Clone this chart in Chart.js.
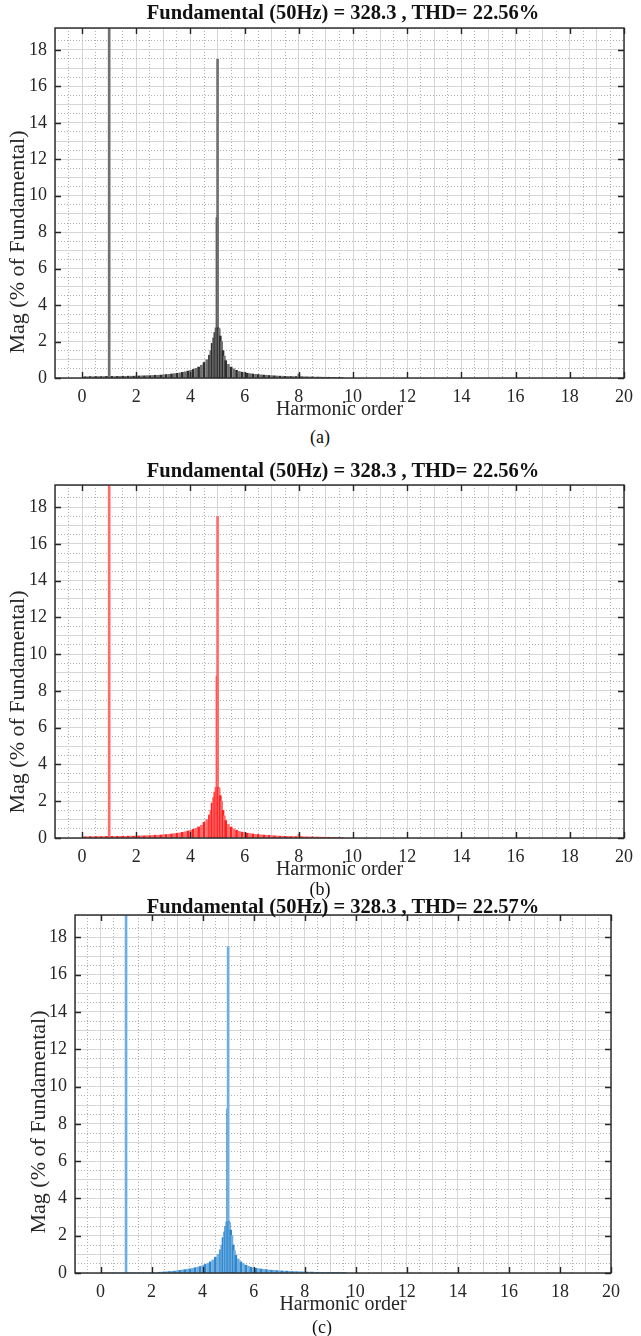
<!DOCTYPE html>
<html>
<head>
<meta charset="utf-8">
<script src="https://cdn.jsdelivr.net/npm/chart.js@4.4.1/dist/chart.umd.min.js"></script>
<style>
  body { margin: 0; background: #fff; }
  #page { position: relative; width: 641px; height: 1336px; overflow: hidden; font-family: 'Liberation Serif', 'Times New Roman', serif; color: #262626; }
  canvas { position: absolute; left: 0; }
  .title { position: absolute; left: 93px; width: 500px; text-align: center; font-weight: bold; font-size: 20.5px; line-height: 24px; z-index: 2; color: #111; }
  .caption { position: absolute; width: 60px; text-align: center; font-size: 18px; line-height: 22px; color: #111; }
  .ylab { position: absolute; width: 320px; text-align: center; font-size: 22px; line-height: 24px; transform: rotate(-90deg); transform-origin: 50% 50%; white-space: nowrap; color: #262626; }
</style>
</head>
<body>
<div id="page">
  <div class="title" style="top:0px">Fundamental (50Hz) = 328.3 , THD= 22.56%</div>
  <canvas id="chartA" width="641" height="425" style="top:0px;width:641px;height:425px"></canvas>
  <div class="ylab" style="left:-143px;top:230px">Mag (% of Fundamental)</div>
  <div class="caption" style="left:290px;top:426px">(a)</div>

  <div class="title" style="top:458px">Fundamental (50Hz) = 328.3 , THD= 22.56%</div>
  <canvas id="chartB" width="641" height="428" style="top:457px;width:641px;height:428px"></canvas>
  <div class="ylab" style="left:-143px;top:690px">Mag (% of Fundamental)</div>
  <div class="caption" style="left:290px;top:878px">(b)</div>

  <div class="title" style="top:894px">Fundamental (50Hz) = 328.3 , THD= 22.57%</div>
  <canvas id="chartC" width="641" height="433" style="top:887px;width:641px;height:433px"></canvas>
  <div class="ylab" style="left:-122px;top:1110px">Mag (% of Fundamental)</div>
  <div class="caption" style="left:292px;top:1316px">(c)</div>
</div>

<script>
// harmonic order of each spectral bar
const harmonicOrder = [
  0.1, 0.2, 0.3, 0.4, 0.5, 0.6, 0.7, 0.8, 0.9, 1.0,
  1.1, 1.2, 1.3, 1.4, 1.5, 1.6, 1.7, 1.8, 1.9, 2.0,
  2.1, 2.2, 2.3, 2.4, 2.5, 2.6, 2.7, 2.8, 2.9, 3.0,
  3.1, 3.2, 3.3, 3.4, 3.5, 3.6, 3.7, 3.8, 3.9, 4.0,
  4.1, 4.2, 4.3, 4.4, 4.5, 4.6, 4.7, 4.75, 4.8, 4.85,
  4.9, 4.94, 4.98, 5.0, 5.02, 5.06, 5.1, 5.15, 5.2, 5.25,
  5.3, 5.4, 5.5, 5.6, 5.7, 5.8, 5.9, 6.0,
  6.1, 6.2, 6.3, 6.4, 6.5, 6.6, 6.7, 6.8, 6.9, 7.0,
  7.1, 7.2, 7.3, 7.4, 7.5, 7.6, 7.7, 7.8, 7.9, 8.0,
  8.1, 8.2, 8.3, 8.4, 8.5, 8.6, 8.7, 8.8, 8.9, 9.0,
  9.1, 9.2, 9.3, 9.4, 9.5, 9.6
];

// magnitude (% of fundamental), panel (a)
const magA = [
  0.07, 0.07, 0.08, 0.07, 0.08, 0.08, 0.08, 0.08, 0.09, 100,
  0.09, 0.08, 0.09, 0.09, 0.10, 0.09, 0.10, 0.10, 0.10, 0.11,
  0.11, 0.12, 0.12, 0.13, 0.13, 0.14, 0.15, 0.15, 0.16, 0.18,
  0.19, 0.20, 0.22, 0.24, 0.26, 0.28, 0.31, 0.34, 0.38, 0.42,
  0.47, 0.53, 0.60, 0.70, 0.85, 1.00, 1.25, 1.50, 1.90, 2.20,
  2.50, 2.75, 8.80, 17.5, 2.75, 2.70, 2.30, 2.00, 1.50, 1.20,
  0.95, 0.75, 0.60, 0.50, 0.42, 0.36, 0.32, 0.30,
  0.26, 0.24, 0.22, 0.20, 0.19, 0.17, 0.16, 0.15, 0.14, 0.13,
  0.12, 0.11, 0.10, 0.10, 0.09, 0.09, 0.08, 0.08, 0.08, 0.22,
  0.07, 0.07, 0.06, 0.06, 0.06, 0.05, 0.05, 0.05, 0.04, 0.04,
  0.04, 0.03, 0.03, 0.03, 0.03, 0.02
];

// panel (b)
const magB = [
  0.07, 0.07, 0.08, 0.07, 0.08, 0.08, 0.08, 0.08, 0.09, 100,
  0.09, 0.08, 0.09, 0.09, 0.10, 0.09, 0.10, 0.10, 0.10, 0.11,
  0.11, 0.12, 0.12, 0.13, 0.13, 0.14, 0.15, 0.15, 0.16, 0.18,
  0.19, 0.20, 0.22, 0.24, 0.26, 0.28, 0.31, 0.34, 0.38, 0.42,
  0.47, 0.53, 0.60, 0.70, 0.85, 1.00, 1.25, 1.50, 1.90, 2.20,
  2.50, 2.75, 8.80, 17.5, 2.75, 2.70, 2.30, 2.00, 1.50, 1.20,
  0.95, 0.75, 0.60, 0.50, 0.42, 0.36, 0.32, 0.30,
  0.26, 0.24, 0.22, 0.20, 0.19, 0.17, 0.16, 0.15, 0.14, 0.13,
  0.12, 0.11, 0.10, 0.10, 0.09, 0.09, 0.08, 0.08, 0.08, 0.20,
  0.07, 0.07, 0.06, 0.06, 0.06, 0.05, 0.05, 0.05, 0.04, 0.04,
  0.04, 0.03, 0.03, 0.03, 0.03, 0.02
];

// panel (c)
const magC = [
  0, 0, 0, 0, 0, 0, 0, 0, 0, 100,
  0, 0, 0, 0, 0, 0, 0, 0, 0, 0,
  0, 0, 0.04, 0.05, 0.06, 0.07, 0.08, 0.09, 0.10, 0.12,
  0.14, 0.16, 0.18, 0.20, 0.22, 0.25, 0.28, 0.31, 0.35, 0.40,
  0.46, 0.52, 0.60, 0.70, 0.85, 1.00, 1.25, 1.50, 1.90, 2.20,
  2.50, 2.75, 8.80, 17.5, 2.75, 2.70, 2.30, 2.00, 1.50, 1.20,
  0.95, 0.75, 0.60, 0.50, 0.42, 0.36, 0.31, 0.28,
  0.25, 0.23, 0.21, 0.19, 0.18, 0.16, 0.15, 0.14, 0.13, 0.12,
  0.11, 0.10, 0.10, 0.09, 0.08, 0.08, 0.07, 0.07, 0.06, 0.06,
  0.05, 0.05, 0.05, 0.04, 0.04, 0.04, 0.03, 0.03, 0.03, 0.03,
  0.02, 0.02, 0.02, 0.02, 0.02, 0.02
];

const xTickLabels = [0, 2, 4, 6, 8, 10, 12, 14, 16, 18, 20];
const yTickLabels = [0, 2, 4, 6, 8, 10, 12, 14, 16, 18];

Chart.defaults.font.family = "'Liberation Serif', 'Times New Roman', serif";

// matlab style box with inward ticks
const framePlugin = {
  id: 'frame',
  afterDatasetsDraw(chart) {
    const { ctx, chartArea: a, scales } = chart;
    ctx.save();
    ctx.strokeStyle = '#262626';
    ctx.lineWidth = 1.4;
    ctx.strokeRect(a.left, a.top, a.right - a.left, a.bottom - a.top);
    ctx.beginPath();
    xTickLabels.forEach(v => {
      const p = Math.round(scales.x.getPixelForValue(v)) + 0.5;
      ctx.moveTo(p, a.bottom); ctx.lineTo(p, a.bottom - 6);
      ctx.moveTo(p, a.top); ctx.lineTo(p, a.top + 6);
    });
    yTickLabels.forEach(v => {
      const p = Math.round(scales.y.getPixelForValue(v)) + 0.5;
      ctx.moveTo(a.left, p); ctx.lineTo(a.left + 6, p);
      ctx.moveTo(a.right, p); ctx.lineTo(a.right - 6, p);
    });
    ctx.stroke();
    ctx.restore();
  }
};

const minorColor = c => Number.isInteger(c.tick.value) ? 'rgba(0,0,0,0)' : '#b0b0b0';

function drawPanel(id, values, colors, area) {
  const el = document.getElementById(id);
  return new Chart(el, {
    type: 'bar',
    data: {
      datasets: [{
        data: harmonicOrder.map((h, i) => ({ x: h, y: values[i] })),
        backgroundColor: c => colors[c.dataIndex % 2],
        borderWidth: 0,
        barThickness: 2,
        xAxisID: 'x',
        yAxisID: 'y'
      }]
    },
    options: {
      responsive: false,
      animation: false,
      devicePixelRatio: 1,
      layout: { padding: { top: area.top, right: area.right, left: 0, bottom: 0 } },
      plugins: { legend: { display: false }, tooltip: { enabled: false } },
      scales: {
        x: {
          type: 'linear', min: -1, max: 20, offset: false, position: 'bottom',
          grid: { color: '#d6d6d6', lineWidth: 1, drawTicks: false, offset: false },
          border: { display: false },
          ticks: {
            stepSize: 1, autoSkip: false, maxRotation: 0, padding: 8, color: '#262626',
            font: { size: 18 },
            callback: v => xTickLabels.includes(v) ? String(v) : ''
          },
          title: { display: true, text: 'Harmonic order', color: '#262626', font: { size: 20 }, padding: { top: 0, bottom: 3 } },
          afterFit: s => { s.height = area.xHeight; }
        },
        xMinor: {
          type: 'linear', min: -1, max: 20, offset: false, position: 'bottom',
          grid: { color: minorColor, lineWidth: 1, drawTicks: false, offset: false },
          border: { display: false, dash: [1, 2] },
          ticks: { display: false, stepSize: 0.5, autoSkip: false },
          afterFit: s => { s.height = 0; }
        },
        y: {
          type: 'linear', min: 0, max: 19.2, position: 'left',
          grid: { color: '#d6d6d6', lineWidth: 1, drawTicks: false },
          border: { display: false },
          ticks: {
            stepSize: 1, autoSkip: false, padding: 8, color: '#262626',
            font: { size: 18 },
            callback: v => yTickLabels.includes(v) ? String(v) : ''
          },
          afterFit: s => { s.width = area.left; }
        },
        yMinor: {
          type: 'linear', min: 0, max: 19.2, position: 'left',
          grid: { color: minorColor, lineWidth: 1, drawTicks: false },
          border: { display: false, dash: [1, 2] },
          ticks: { display: false, stepSize: 0.5, autoSkip: false },
          afterFit: s => { s.width = 0; }
        }
      }
    },
    plugins: [framePlugin]
  });
}

drawPanel('chartA', magA, ['#2e2e2e', '#707070'], { top: 28, right: 10, left: 55, xHeight: 47 });
drawPanel('chartB', magB, ['#ff2020', '#ff6a6a'], { top: 28, right: 10, left: 55, xHeight: 47 });
drawPanel('chartC', magC, ['#2f86cc', '#6eaee0'], { top: 28, right: 30, left: 75, xHeight: 47 });
</script>
</body>
</html>
